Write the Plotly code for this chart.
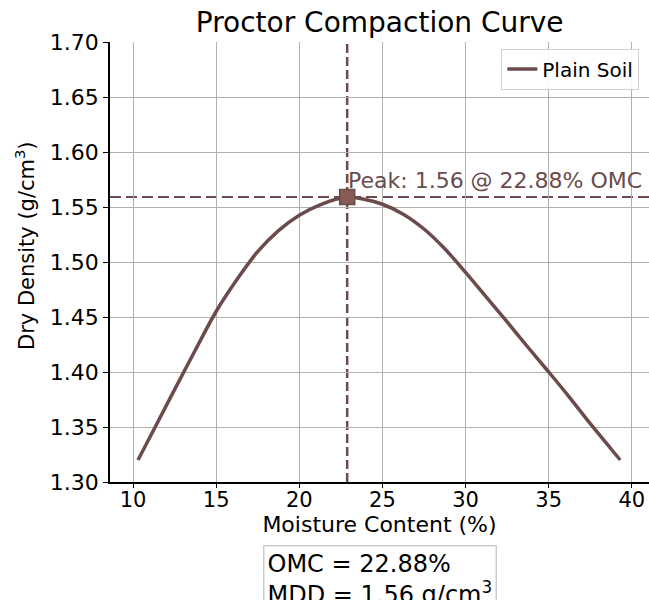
import plotly.graph_objects as go

# Data
moisture = [10.3, 11.25, 12.5, 13.75, 15.0, 16.25, 17.5, 18.75, 20.0, 21.25, 22.88,
            23.75, 25.0, 26.25, 27.5, 28.75, 30.0, 31.25, 32.5, 33.75, 35.0, 36.25, 37.5, 38.75, 39.3]
density = [1.320, 1.3475, 1.384, 1.420, 1.455, 1.484, 1.5095, 1.5285, 1.5425, 1.552, 1.559,
           1.5575, 1.5525, 1.5435, 1.530, 1.512, 1.4905, 1.468, 1.4455, 1.4225, 1.400, 1.377, 1.353, 1.330, 1.320]
omc = 22.88
mdd = 1.559
x_ticks = [10, 15, 20, 25, 30, 35, 40]
y_ticks = [1.30, 1.35, 1.40, 1.45, 1.50, 1.55, 1.60, 1.65, 1.70]
series_name = "Plain Soil"

LINE = "#6b4b4b"
MARK = "#8a5a55"
FONT = "DejaVu Sans"

fig = go.Figure()
fig.add_trace(go.Scatter(
    x=moisture, y=density, mode="lines", name=series_name,
    line=dict(color=LINE, width=3.5, shape="spline", smoothing=1.0),
))
fig.add_trace(go.Scatter(
    x=[omc], y=[mdd], mode="markers", showlegend=False,
    marker=dict(symbol="square", size=15, color=MARK, line=dict(color=LINE, width=1.5)),
))

fig.add_hline(y=mdd, line=dict(color=LINE, width=2, dash="11px,5px"), layer="below")
fig.add_vline(x=omc, line=dict(color=LINE, width=2.5, dash="9px,4px"), layer="below")

fig.add_annotation(
    x=omc, y=mdd, xref="x", yref="y", text=f"Peak: {mdd:.2f} @ {omc:.2f}% OMC",
    showarrow=False, xanchor="left", yanchor="bottom", xshift=-1, yshift=2,
    font=dict(family=FONT, size=22, color=LINE),
)
fig.add_annotation(
    x=0.501, y=-0.143, xref="paper", yref="paper", xanchor="center", yanchor="top",
    text=f"OMC = {omc:.2f}%<br>MDD = {mdd:.2f} g/cm<sup>3</sup>",
    showarrow=False, align="left",
    font=dict(family=FONT, size=24, color="black"),
    bgcolor="white", bordercolor="#cccccc", borderwidth=1.5, borderpad=3,
)
fig.add_annotation(
    x=-0.1577, y=0.5386, xref="paper", yref="paper", xanchor="center", yanchor="middle",
    text="Dry Density (g/cm<sup>3</sup>)", textangle=-90, showarrow=False,
    font=dict(family=FONT, size=21, color="black"),
)

fig.update_layout(
    width=649, height=600,
    margin=dict(l=110, r=0, t=42, b=118),
    paper_bgcolor="white", plot_bgcolor="white",
    font=dict(family=FONT, color="black"),
    title=dict(text="Proctor Compaction Curve", x=0.585, xanchor="center", y=0.963, yanchor="middle",
               font=dict(family=FONT, size=28, color="black")),
    showlegend=True,
    legend=dict(x=0.982, y=0.985, xanchor="right", yanchor="top",
                bgcolor="rgba(255,255,255,0.9)", bordercolor="#d0d0d0", borderwidth=1,
                font=dict(family=FONT, size=20, color="black")),
)
fig.update_xaxes(
    range=[8.617, 41.03], tickvals=x_ticks, ticktext=[str(v) for v in x_ticks],
    showgrid=True, gridcolor="#b0b0b0", gridwidth=1,
    showline=True, linecolor="black", linewidth=1.5, mirror=False,
    ticks="outside", ticklen=4, tickcolor="black", automargin=False,
    ticklabelstandoff=-6,
    tickfont=dict(family=FONT, size=21), zeroline=False,
    title=dict(text="Moisture Content (%)", font=dict(family=FONT, size=22), standoff=0),
)
fig.update_yaxes(
    range=[1.30, 1.70], tickvals=y_ticks, ticktext=[f"{v:.2f}" for v in y_ticks],
    showgrid=True, gridcolor="#b0b0b0", gridwidth=1,
    showline=True, linecolor="black", linewidth=1.5, mirror=True,
    ticks="outside", ticklen=5, tickcolor="black", automargin=False,
    tickfont=dict(family=FONT, size=22), zeroline=False,
)

fig.write_html(
    "out.html",
    config={"displayModeBar": False},
    post_script="document.body.style.margin='0';document.body.style.overflow='hidden';",
)
